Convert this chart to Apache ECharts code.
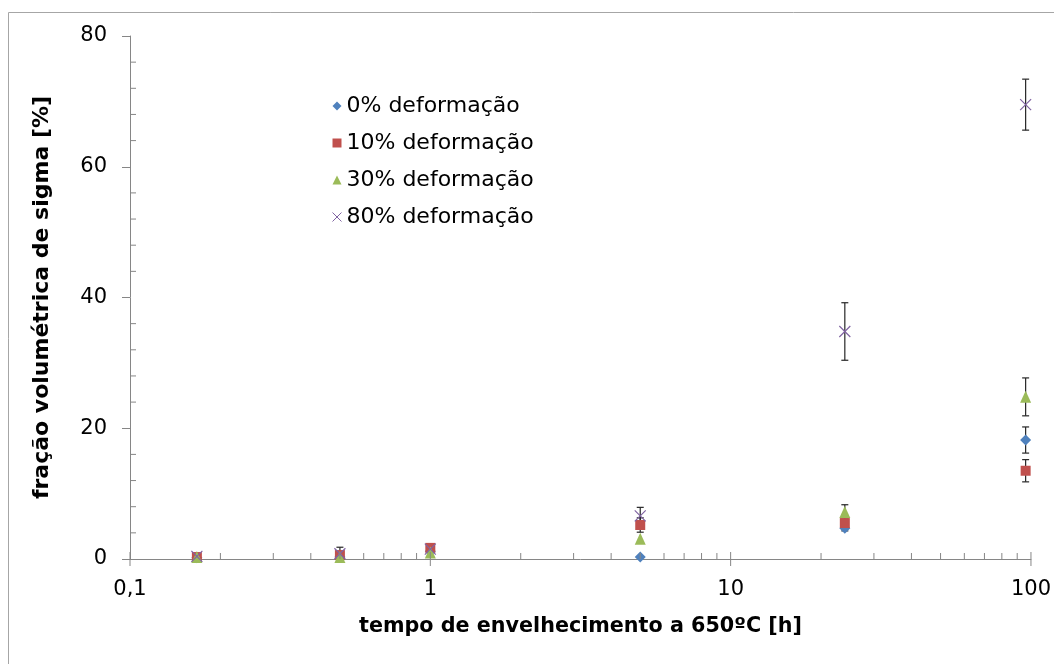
<!DOCTYPE html>
<html>
<head>
<meta charset="utf-8">
<script src="https://cdn.jsdelivr.net/npm/echarts@6/dist/echarts.min.js"></script>
<style>
html,body{margin:0;padding:0;background:#fff;}
#chart{width:1054px;height:664px;}
</style>
</head>
<body>
<div id="chart"></div>
<script>
// ---- data ----
const times = [0.167, 0.5, 1, 5, 24, 96];
const seriesNames = ['0% deformação', '10% deformação', '30% deformação', '80% deformação'];
const def0 = [0.2, 0.3, 1.2, 0.3, 4.7, 18.2];
const def0Err = [0, 0, 0, 0, 0.4, 2.0];
const def10 = [0.3, 0.6, 1.7, 5.2, 5.5, 13.5];
const def10Err = [0, 0, 0.2, 1.1, 0, 1.7];
const def30 = [0.3, 0.3, 1.0, 3.1, 7.2, 24.8];
const def30Err = [0, 0, 0, 0, 1.1, 2.9];
const def80 = [0.4, 0.8, 1.5, 6.6, 34.8, 69.5];
const def80Err = [0, 1.0, 0, 1.3, 4.4, 3.9];
const xMajorTicks = [0.1, 1, 10, 100];
const xMinorTicks = [0.2,0.3,0.4,0.5,0.6,0.7,0.8,0.9,2,3,4,5,6,7,8,9,20,30,40,50,60,70,80,90];
const yMinorTicks = [4,8,12,16,24,28,32,36,44,48,52,56,64,68,72,76];

const colors = ['#4F81BD', '#C0504D', '#9BBB59', '#8064A2'];
const xPath = 'path://M0,0L10,10M10,0L0,10';
const FONT = 'DejaVu Sans';

function pts(vals){ return times.map((t,i)=>[t, vals[i]]); }
function errPts(vals, errs){
  const out = [];
  times.forEach((t,i)=>{ if(errs[i] > 0) out.push([t, vals[i]-errs[i], vals[i]+errs[i]]); });
  return out;
}
function errRender(params, api){
  const x = api.value(0), lo = api.value(1), hi = api.value(2);
  const a = api.coord([x, lo]), b = api.coord([x, hi]);
  const hw = 3.5;
  const st = {stroke:'#262626', lineWidth:1.2};
  return {type:'group', children:[
    {type:'line', shape:{x1:a[0],y1:a[1],x2:b[0],y2:b[1]}, style:st},
    {type:'line', shape:{x1:a[0]-hw,y1:a[1],x2:a[0]+hw,y2:a[1]}, style:st},
    {type:'line', shape:{x1:b[0]-hw,y1:b[1],x2:b[0]+hw,y2:b[1]}, style:st}
  ]};
}
function xTickRender(params, api){
  const v = api.value(0), major = api.value(1);
  const p = api.coord([v, 0]);
  return {type:'line', shape:{x1:p[0], y1:p[1] + (major ? 7 : 0), x2:p[0], y2:p[1] - (major ? 7 : 6)},
          style:{stroke:'#868686', lineWidth:1}};
}
function yTickRender(params, api){
  const v = api.value(1);
  const p = api.coord([0.1, v]);
  return {type:'line', shape:{x1:p[0], y1:p[1], x2:p[0] + 6, y2:p[1]},
          style:{stroke:'#868686', lineWidth:1}};
}
const xTickData = xMajorTicks.map(v=>[v,1]).concat(xMinorTicks.map(v=>[v,0]));
const yTickData = yMinorTicks.map(v=>[0.1, v]);

const chart = echarts.init(document.getElementById('chart'));
const valueSets = [def0, def10, def30, def80];
const errSets = [def0Err, def10Err, def30Err, def80Err];
const symbols = ['diamond', 'rect', 'triangle', xPath];
const sizes = [[11,11], [10,10], [11,12], [11,11]];

const series = [];
series.push({type:'custom', name:'xticks', renderItem: xTickRender, data: xTickData, clip:false, silent:true,
  encode:{x:0, y:1}, z:3});
series.push({type:'custom', name:'yticks', renderItem: yTickRender, data: yTickData, clip:false, silent:true,
  encode:{x:0, y:1}, z:3});
valueSets.forEach((vals, k)=>{
  series.push({type:'custom', name:'err'+k, renderItem: errRender, data: errPts(vals, errSets[k]),
    encode:{x:0, y:[1,2]}, clip:false, silent:true, z:1});
});
valueSets.forEach((vals, k)=>{
  const isX = k === 3;
  series.push({type:'scatter', name: seriesNames[k], data: pts(vals), symbol: symbols[k], symbolSize: sizes[k],
    itemStyle: isX ? {color:'rgba(0,0,0,0)', borderColor: colors[k], borderWidth: 1.2, opacity:1} : {color: colors[k], opacity:1},
    z:2});
});

chart.setOption({
  animation:false,
  backgroundColor:'#fff',
  graphic:[{type:'rect', shape:{x:8.5, y:12.5, width:1200, height:800}, style:{fill:null, stroke:'#a6a6a6', lineWidth:1}, silent:true, z:-1}],
  grid:{left:130, right:21, top:36, bottom:105},
  legend:{
    orient:'vertical', left:327, top:90, itemGap:15, itemWidth:9, itemHeight:9,
    textStyle:{fontFamily:FONT, fontSize:22, color:'#000', lineHeight:22},
    data:[
      {name:seriesNames[0], icon:'diamond', itemStyle:{color:colors[0]}},
      {name:seriesNames[1], icon:'rect', itemStyle:{color:colors[1]}},
      {name:seriesNames[2], icon:'triangle', itemStyle:{color:colors[2]}},
      {name:seriesNames[3], icon:xPath, itemStyle:{color:'rgba(0,0,0,0)', borderColor:colors[3], borderWidth:1}}
    ]
  },
  xAxis:{
    type:'log', logBase:10, min:0.1, max:100,
    name:'tempo de envelhecimento a 650ºC [h]', nameLocation:'middle', nameGap:57,
    nameTextStyle:{fontFamily:FONT, fontSize:20.7, fontWeight:'bold', color:'#000'},
    axisLine:{show:true, lineStyle:{color:'#868686', width:1}},
    axisTick:{show:false},
    splitLine:{show:false},
    axisLabel:{fontFamily:FONT, fontSize:21, color:'#000', margin:20,
      formatter: v => String(Number(v.toPrecision(6))).replace('.', ',')}
  },
  yAxis:{
    type:'value', min:0, max:80, interval:20,
    name:'fração volumétrica de sigma [%]', nameLocation:'middle', nameGap:77, nameRotate:90,
    nameTextStyle:{fontFamily:FONT, fontSize:22, fontWeight:'bold', color:'#000'},
    axisLine:{show:true, lineStyle:{color:'#868686', width:1}},
    axisTick:{show:true, length:8, lineStyle:{color:'#868686'}},
    splitLine:{show:false},
    axisLabel:{fontFamily:FONT, fontSize:21, color:'#000', margin:23}
  },
  series: series
});
</script>
</body>
</html>
